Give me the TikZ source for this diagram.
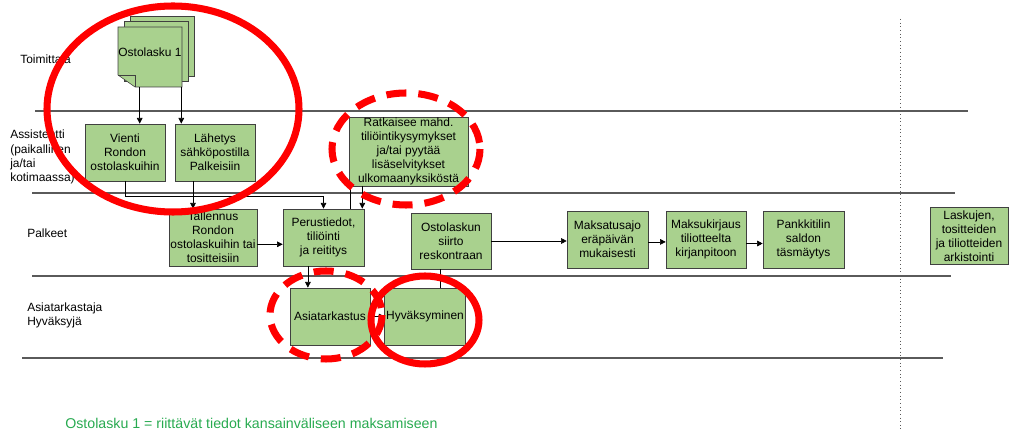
\documentclass[tikz,border=0pt]{standalone}
\usepackage{fontspec}
\setmainfont{Liberation Sans}
\usetikzlibrary{arrows.meta}
\definecolor{boxgreen}{RGB}{169,209,142}
\definecolor{boxline}{RGB}{64,64,64}
\definecolor{laneline}{RGB}{90,90,90}
\definecolor{notegreen}{RGB}{40,170,80}
\definecolor{markred}{RGB}{255,0,0}
\tikzset{
  task/.style={draw=boxline, fill=boxgreen, thin, align=center, inner sep=1pt,
    minimum width=2cm, minimum height=1.43cm, font=\fontsize{8.5}{10}\selectfont},
  docpage/.style={draw=boxline, fill=boxgreen, thin},
  lane/.style={draw=laneline, line width=0.8pt},
  flow/.style={->, thin, black},
  link/.style={thin, black},
  lanetext/.style={anchor=west, align=left, inner sep=0pt, font=\fontsize{8.5}{10}\selectfont},
  ring/.style={draw=markred, line width=5pt},
  dashring/.style={ring, dash pattern=on 0.5cm off 0.3cm},
  >={Triangle[length=4pt,width=4pt]}
}
\begin{document}
\begin{tikzpicture}[x=0.025cm,y=-0.025cm]
  \useasboundingbox (0,0) rectangle (1009,432);

  % lanes
  \draw[lane] (35,111) -- (968,111);
  \draw[lane] (32,193) -- (955,193);
  \draw[lane] (32,276) -- (951,276);
  \draw[lane] (22,358) -- (943,358);
  \draw[laneline, dotted, line width=0.6pt] (900,19) -- (900,432);

  % label
  \node[lanetext] (toimittaja) at (20,60) {Toimittaja};
  \node[lanetext] (assistentti) at (10,157) {Assistentti\\(paikallinen\\ja/tai\\kotimaassa)};
  \node[lanetext] (palkeet) at (27,233) {Palkeet};
  \node[lanetext] (tarkastaja) at (27,315) {Asiatarkastaja\\Hyväksyjä};

  % Ostolasku 1
  \draw[docpage] (130,16) rectangle (194,76);
  \draw[docpage] (124,21) rectangle (188,81);
  \draw[docpage] (118,27) -- (182,27) -- (182,87) -- (135,87) -- (118,75) -- cycle;
  \draw[boxline, thin] (118,75) -- (135,75) -- (135,87);
  \node[minimum width=1.6cm, minimum height=1.5cm, inner sep=0pt, text depth=7pt,
    font=\fontsize{8.5}{10}\selectfont] (lasku) at (150,57) {Ostolasku 1};

  % tasks
  \node[task] (vienti) at (125,152.5) {Vienti\\Rondon\\ostolaskuihin};
  \node[task] (lahetys) at (215,152.5) {Lähetys\\sähköpostilla\\Palkeisiin};
  \node[task, minimum width=2.975cm, minimum height=1.725cm, inner sep=0pt] (ratkaisee) at (408.5,151.5)
    {Ratkaisee mahd.\\tiliöintikysymykset\\ja/tai pyytää\\lisäselvitykset\\ulkomaanyksiköstä};

  \node[task, minimum width=2.2cm, inner ysep=0pt] (tallennus) at (213,237.5) {Tallennus\\Rondon\\ostolaskuihin tai\\tositteisiin};
  \node[task, minimum width=2.025cm] (perus) at (323.5,237.5) {Perustiedot,\\tiliöinti\\ja reititys};
  \node[task, minimum height=1.4cm] (siirto) at (451,241) {Ostolaskun\\siirto\\reskontraan};
  \node[task, minimum width=2.025cm] (maksatus) at (607.5,239.5) {Maksatusajo\\eräpäivän\\mukaisesti};
  \node[task] (kirjaus) at (706,239.5) {Maksukirjaus\\tiliotteelta\\kirjanpitoon};
  \node[task, minimum width=2.025cm] (pankki) at (803.5,239.5) {Pankkitilin\\saldon\\täsmäytys};
  \node[task, minimum width=1.95cm, inner ysep=0pt] (arkisto) at (969,236) {Laskujen,\\tositteiden\\ja tiliotteiden\\arkistointi};

  \node[task] (asia) at (330,316.5) {Asiatarkastus};
  \node[task] (hyvaks) at (425,316.5) {Hyväksyminen};

  % flows
  \draw[flow] ([xshift=0.55cm]lasku.south west) -- ([xshift=0.55cm]lasku.south west |- vienti.north);
  \draw[flow] ([xshift=-0.025cm]lasku.south east) -- ([xshift=-0.025cm]lasku.south east |- lahetys.north);
  \draw[flow] ([xshift=-0.55cm]lahetys.south) -- ([xshift=-0.55cm]lahetys.south |- tallennus.north);
  \draw[flow] (vienti.south) -- ++(0,15) -| (perus.north);
  \draw[link] ([xshift=0.05cm]ratkaisee.south west) -- ([xshift=0.05cm]ratkaisee.south west |- perus.north);
  \draw[flow] ([xshift=-0.05cm]perus.north east |- ratkaisee.south) -- ([xshift=-0.05cm]perus.north east);
  \draw[flow] ([yshift=-0.17cm]tallennus.east) -- ([yshift=-0.17cm]tallennus.east -| perus.west);
  \draw[flow] ([xshift=-0.39cm]perus.south) -- ([xshift=-0.39cm]perus.south |- asia.north);
  \draw[flow] (asia) -- (hyvaks);
  \draw[link] ([xshift=-0.275cm]siirto.south) -- ([xshift=-0.275cm]siirto.south |- hyvaks.north);
  \draw[flow] (siirto.east) -- (siirto.east -| maksatus.west);
  \draw[flow] ([yshift=-0.06cm]maksatus.east) -- ([yshift=-0.06cm]maksatus.east -| kirjaus.west);
  \draw[flow] ([yshift=-0.1cm]kirjaus.east) -- ([yshift=-0.1cm]kirjaus.east -| pankki.west);

  % note
  \node[anchor=west, inner sep=0pt, text=notegreen, font=\fontsize{10.1}{12}\selectfont] (note) at (65,423)
    {Ostolasku 1 = riittävät tiedot kansainväliseen maksamiseen};

  % red marks
  \draw[ring] (173,109) ellipse [x radius=126, y radius=103];
  \draw[dashring] (406,149) ellipse [x radius=74, y radius=56];
  \draw[dashring] (326,315) ellipse [x radius=56, y radius=44];
  \draw[ring] (425,320) ellipse [x radius=54, y radius=44];
\end{tikzpicture}
\end{document}
